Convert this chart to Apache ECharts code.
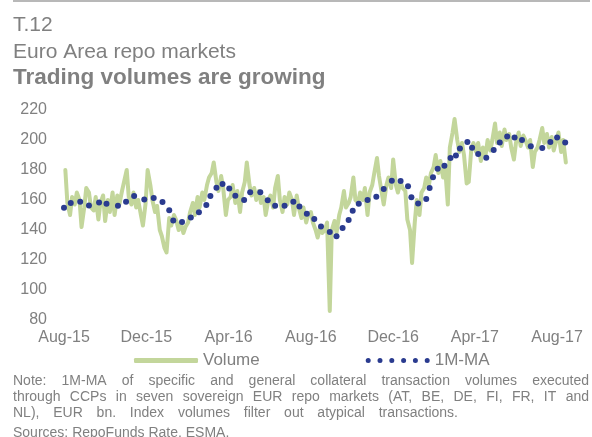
<!DOCTYPE html>
<html><head><meta charset="utf-8">
<script src="https://cdn.jsdelivr.net/npm/echarts@6/dist/echarts.min.js"></script>
<style>html,body{margin:0;padding:0;background:#fff}#c{width:592px;height:437px}</style>
</head><body><div id="c"></div>
<script>
// ---------- data ----------
const titleLines = ['T.12', 'Euro Area repo markets', 'Trading volumes are growing'];
const xTickDates = ['2015-08-01','2015-12-01','2016-04-01','2016-08-01','2016-12-01','2017-04-01','2017-08-01'];
const xTickLabels = ['Aug-15','Dec-15','Apr-16','Aug-16','Dec-16','Apr-17','Aug-17'];
const yTicks = [80, 100, 120, 140, 160, 180, 200, 220];
const seriesNames = ['Volume', '1M-MA'];

// Volume, EUR bn, twice-weekly readings (Mondays and Thursdays) from 3 Aug 2015
const volumeStart = '2015-08-03';
const volume = [
  180,158,150,162,157,165,160,142,155,        // Aug-15
  168,165,155,153,162,147,158,163,            // Sep-15
  146,160,152,165,150,163,157,166,172,        // Oct-15
  180,162,157,165,155,160,150,143,158,        // Nov-15
  180,170,160,152,156,140,136,128,125,        // Dec-15
  148,143,150,147,140,145,138,142,            // Jan-16
  145,152,158,150,162,155,165,160,170,        // Feb-16
  175,178,185,172,166,176,168,150,160,        // Mar-16
  162,170,158,166,152,165,172,185,            // Apr-16
  170,163,168,160,166,158,162,150,160,        // May-16
  163,155,168,176,160,152,162,157,165,        // Jun-16
  160,150,163,155,148,155,145,150,            // Jul-16
  152,145,140,135,142,138,140,145,86,         // Aug-16
  140,146,138,150,155,166,155,158,162,        // Sep-16
  175,160,158,165,160,168,150,165,170,        // Oct-16
  178,188,176,165,157,170,175,168,            // Nov-16
  187,170,165,172,168,166,147,140,118,        // Dec-16
  145,160,150,165,168,175,170,178,182,        // Jan-17
  190,178,186,175,182,157,195,205,            // Feb-17
  214,200,192,198,190,171,172,195,198,        // Mar-17
  192,198,186,195,190,200,193,200,            // Apr-17
  211,198,205,196,207,200,204,195,187,        // May-17
  198,205,196,203,200,195,200,182,192,        // Jun-17
  195,200,208,198,204,195,202,193,200,        // Jul-17
  205,192,200,185                              // Aug-17
];

// 1M moving average, dotted series
const maDates = [
  '2015-08-01','2015-08-11','2015-08-25','2015-09-07','2015-09-22','2015-10-03','2015-10-20','2015-11-01',
  '2015-11-13','2015-11-28','2015-12-12','2015-12-25','2016-01-04','2016-01-10','2016-01-23','2016-02-05',
  '2016-02-17','2016-02-28','2016-03-05','2016-03-14','2016-03-23','2016-04-02','2016-04-11','2016-04-24',
  '2016-05-03','2016-05-18','2016-05-29','2016-06-09','2016-06-23','2016-07-06','2016-07-15','2016-07-26',
  '2016-08-06','2016-08-16','2016-08-29','2016-09-08','2016-09-17','2016-09-26','2016-10-02','2016-10-11',
  '2016-10-24','2016-11-06','2016-11-17','2016-11-29','2016-12-12','2016-12-23','2016-12-28','2017-01-07',
  '2017-01-19','2017-01-24','2017-01-29','2017-02-05','2017-02-15','2017-02-24','2017-03-04','2017-03-10',
  '2017-03-21','2017-03-28','2017-04-06','2017-04-18','2017-04-29','2017-05-08','2017-05-19','2017-05-30',
  '2017-06-10','2017-06-23','2017-07-10','2017-07-22','2017-08-01','2017-08-13'
];
const maValues = [
  154.9,158.0,158.9,156.4,158.4,157.5,156.2,158.9,
  162.7,160.4,161.3,158.7,153.1,146.4,145.3,148.4,
  151.8,156.7,162.7,168.2,170.7,167.6,162.9,160.0,
  165.1,165.1,159.8,156.2,156.2,158.9,155.6,150.9,
  147.3,142.4,138.7,135.8,141.3,146.7,152.9,157.5,
  160.0,162.2,167.3,172.9,172.7,169.1,161.8,157.6,
  160.7,168.0,175.1,180.9,182.9,188.0,189.6,194.4,
  198.7,194.9,190.7,188.2,193.3,198.4,202.4,201.6,
  200.0,195.8,194.7,198.7,201.6,198.4
];

const noteLines = [
  'Note: 1M-MA of specific and general collateral transaction volumes executed',
  'through CCPs in seven sovereign EUR repo markets (AT, BE, DE, FI, FR, IT and',
  'NL), EUR bn. Index volumes filter out atypical transactions.'
];
const sourceLine = 'Sources: RepoFunds Rate, ESMA.';

// ---------- helpers ----------
function ts(s) { const p = s.split('-').map(Number); return new Date(p[0], p[1] - 1, p[2]).getTime(); }
const volumeData = [];
(function () {
  const d = new Date(ts(volumeStart));
  for (let i = 0; i < volume.length; i++) {
    volumeData.push([d.getTime(), volume[i]]);
    d.setDate(d.getDate() + (d.getDay() === 1 ? 3 : 4));
  }
})();
const maData = maDates.map((s, i) => [ts(s), maValues[i]]);
const tickTs = xTickDates.map(ts);

const GRAY = '#808080';
const GREEN = '#c3d69b';
const BLUE = '#2a3b8f';
const FONT = '"Liberation Sans", Arial, sans-serif';

// justified note text
const mctx = document.createElement('canvas').getContext('2d');
const noteFont = '14px ' + FONT;
mctx.font = noteFont;
function lineEls(line, y, x0, x1, justify) {
  const words = line.split(' ');
  const widths = words.map(w => mctx.measureText(w).width);
  const total = widths.reduce((a, b) => a + b, 0);
  const gap = justify ? (x1 - x0 - total) / (words.length - 1) : mctx.measureText(' ').width;
  let x = x0;
  return words.map((w, i) => {
    const el = { type: 'text', x: x, y: y, silent: true,
      style: { text: w, font: noteFont, fill: GRAY, textAlign: 'left', textVerticalAlign: 'middle' } };
    x += widths[i] + gap;
    return el;
  });
}

// legend dotted icon
function dotsPath(n, r, spacing) {
  let p = 'path://';
  for (let i = 0; i < n; i++) {
    const cx = r + i * spacing;
    p += 'M' + (cx - r) + ',' + r + ' a' + r + ',' + r + ' 0 1,0 ' + (2 * r) + ',0 a' + r + ',' + r + ' 0 1,0 ' + (-2 * r) + ',0 Z ';
  }
  return p;
}

const graphics = [
  { type: 'line', silent: true, shape: { x1: 13, y1: 1, x2: 590, y2: 1 }, style: { stroke: '#b8b8b8', lineWidth: 2 } },
  { type: 'text', x: 13, y: 25, silent: true, style: { text: titleLines[0], font: '21px ' + FONT, fill: GRAY, textVerticalAlign: 'middle' } },
  { type: 'text', x: 13, y: 52, silent: true, style: { text: titleLines[1], font: '21px ' + FONT, fill: GRAY, textVerticalAlign: 'middle' } },
  { type: 'text', x: 13, y: 78, silent: true, style: { text: titleLines[2], font: 'bold 22.5px ' + FONT, fill: GRAY, textVerticalAlign: 'middle' } }
]
  .concat(lineEls(noteLines[0], 381, 13, 589, true))
  .concat(lineEls(noteLines[1], 397, 13, 589, true))
  .concat(lineEls(noteLines[2], 413, 13, 458, true))
  .concat(lineEls(sourceLine, 433, 13, 589, false));

const chart = echarts.init(document.getElementById('c'), null, { renderer: 'canvas' });
chart.setOption({
  animation: false,
  backgroundColor: '#fff',
  textStyle: { fontFamily: FONT },
  grid: { left: 64, right: 14, top: 110, bottom: 117, containLabel: false, outerBoundsMode: 'none' },
  xAxis: {
    type: 'value',
    min: ts('2015-08-01'), max: ts('2017-09-01'),
    axisLine: { show: false }, axisTick: { show: false }, splitLine: { show: false },
    axisLabel: {
      customValues: tickTs,
      color: GRAY, fontSize: 16, margin: 10, hideOverlap: false,
      formatter: function (v) { const i = tickTs.indexOf(v); return i >= 0 ? xTickLabels[i] : ''; }
    }
  },
  yAxis: {
    type: 'value', min: yTicks[0], max: yTicks[yTicks.length - 1], interval: 20,
    axisLine: { show: false }, axisTick: { show: false }, splitLine: { show: false },
    axisLabel: { color: GRAY, fontSize: 16, margin: 17 }
  },
  legend: {
    left: 129, top: 347, itemWidth: 64, itemHeight: 5, itemGap: 106, itemTextGap: 6,
    textStyle: { color: GRAY, fontSize: 17, fontFamily: FONT },
    data: [
      { name: seriesNames[0], icon: 'roundRect' },
      { name: seriesNames[1], icon: dotsPath(6, 2.5, 11.8) }
    ]
  },
  series: [
    { name: seriesNames[0], type: 'line', data: volumeData, showSymbol: false, symbol: 'none',
      lineStyle: { color: GREEN, width: 4, join: 'round', cap: 'round' }, itemStyle: { color: GREEN }, z: 2 },
    { name: seriesNames[1], type: 'scatter', data: maData, symbol: 'circle', symbolSize: 6,
      itemStyle: { color: BLUE, opacity: 1 }, z: 3 }
  ],
  graphic: graphics
});
</script></body></html>
